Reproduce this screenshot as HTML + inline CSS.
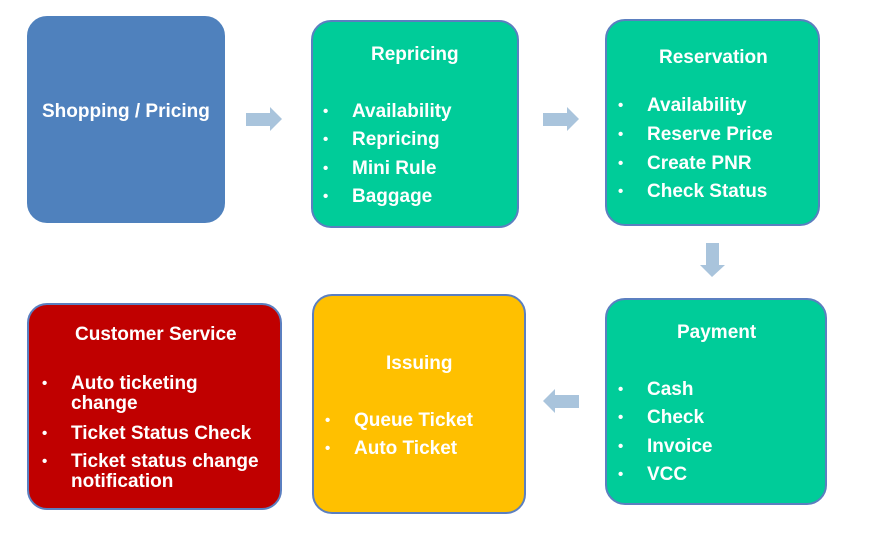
<!DOCTYPE html>
<html><head><style>
body{margin:0;width:880px;height:533px;background:#fff;position:relative;overflow:hidden;font-family:"Liberation Sans",sans-serif;font-weight:bold;color:#fff}
.b{position:absolute;box-sizing:border-box;border:2px solid #5b7fc0;border-radius:20px}
.t{position:absolute;font-size:19px;white-space:nowrap;line-height:20px;padding-top:2px}
.d{position:absolute;font-size:15px;line-height:20px;padding-top:2px}
.g{background:#00cc99}
</style></head><body>
<div class="b" style="left:27px;top:16px;width:198px;height:207px;background:#4f81bd;border-color:#4f81bd"></div>
<div class="b g" style="left:311px;top:20px;width:208px;height:208px"></div>
<div class="b g" style="left:605px;top:19px;width:215px;height:207px"></div>
<div class="b g" style="left:605px;top:298px;width:222px;height:207px"></div>
<div class="b" style="left:312px;top:294px;width:214px;height:220px;background:#ffc000"></div>
<div class="b" style="left:27px;top:303px;width:255px;height:207px;background:#c00000"></div>
<svg style="position:absolute;left:0;top:0" width="880" height="533">
<g fill="#a9c4dc">
<polygon points="246,113 270,113 270,107 282,119 270,131 270,126 246,126"/>
<polygon points="543,113 567,113 567,107 579,119 567,131 567,126 543,126"/>
<polygon points="706,243 719,243 719,265 725,265 712,277 700,265 706,265"/>
<polygon points="579,395 555,395 555,389 543,401 555,413 555,408 579,408"/>
</g></svg>
<div class="t" style="left:42px;top:100px">Shopping / Pricing</div>
<div class="t" style="left:371px;top:43px">Repricing</div>
<div class="d" style="left:323px;top:100px">•</div><div class="t" style="left:352px;top:100px">Availability</div>
<div class="d" style="left:323px;top:128px">•</div><div class="t" style="left:352px;top:128px">Repricing</div>
<div class="d" style="left:323px;top:157px">•</div><div class="t" style="left:352px;top:157px">Mini Rule</div>
<div class="d" style="left:323px;top:185px">•</div><div class="t" style="left:352px;top:185px">Baggage</div>
<div class="t" style="left:659px;top:46px">Reservation</div>
<div class="d" style="left:618px;top:94px">•</div><div class="t" style="left:647px;top:94px">Availability</div>
<div class="d" style="left:618px;top:123px">•</div><div class="t" style="left:647px;top:123px">Reserve Price</div>
<div class="d" style="left:618px;top:152px">•</div><div class="t" style="left:647px;top:152px">Create PNR</div>
<div class="d" style="left:618px;top:180px">•</div><div class="t" style="left:647px;top:180px">Check Status</div>
<div class="t" style="left:677px;top:321px">Payment</div>
<div class="d" style="left:618px;top:378px">•</div><div class="t" style="left:647px;top:378px">Cash</div>
<div class="d" style="left:618px;top:406px">•</div><div class="t" style="left:647px;top:406px">Check</div>
<div class="d" style="left:618px;top:435px">•</div><div class="t" style="left:647px;top:435px">Invoice</div>
<div class="d" style="left:618px;top:463px">•</div><div class="t" style="left:647px;top:463px">VCC</div>
<div class="t" style="left:386px;top:352px">Issuing</div>
<div class="d" style="left:325px;top:409px">•</div><div class="t" style="left:354px;top:409px">Queue Ticket</div>
<div class="d" style="left:325px;top:437px">•</div><div class="t" style="left:354px;top:437px">Auto Ticket</div>
<div class="t" style="left:75px;top:323px">Customer Service</div>
<div class="d" style="left:42px;top:372px">•</div><div class="t" style="left:71px;top:372px">Auto ticketing<br>change</div>
<div class="d" style="left:42px;top:422px">•</div><div class="t" style="left:71px;top:422px">Ticket Status Check</div>
<div class="d" style="left:42px;top:450px">•</div><div class="t" style="left:71px;top:450px">Ticket status change<br>notification</div>
</body></html>
